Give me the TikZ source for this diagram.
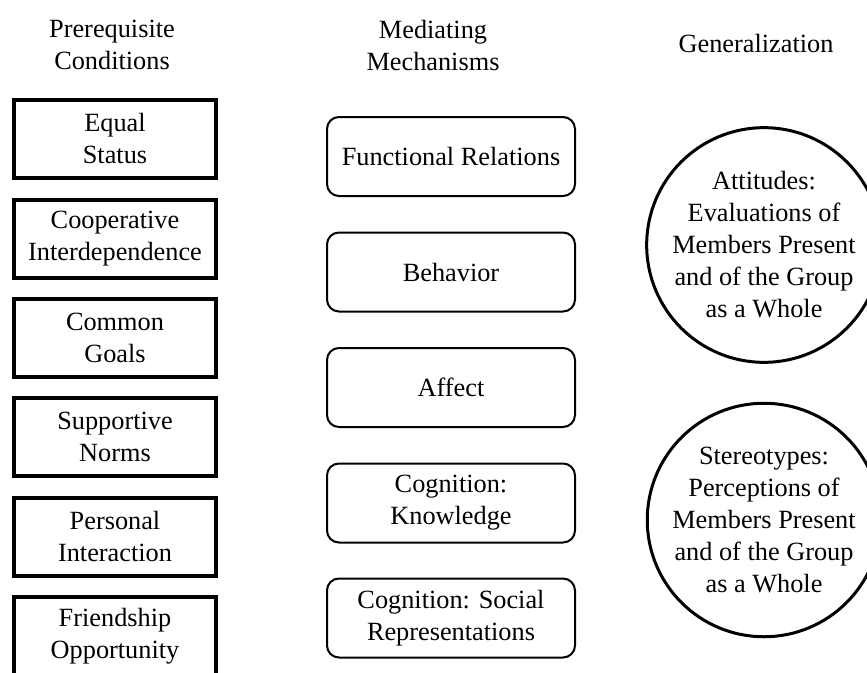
\documentclass[tikz,border=0pt]{standalone}
\usepackage{fontspec}
\setmainfont{Liberation Serif}
\begin{document}
\begin{tikzpicture}[x=1pt,y=-1pt,
        every node/.style={font=\fontsize{26.3}{32}\selectfont, align=center, inner sep=0pt},
        cond/.style={draw, line width=4pt, minimum width=202pt, minimum height=78pt},
        mech/.style={draw, line width=2pt, rounded corners=12pt, minimum width=248pt, minimum height=79pt},
        gen/.style={draw, circle, line width=3pt, minimum size=221pt}]

                \useasboundingbox (0,0) rectangle (867,672);
                \clip (0,0) rectangle (867,672);

                \node (hcond) at (112,45) {Prerequisite\\Conditions};
                \node (hmech) at (433,46) {Mediating\\Mechanisms};
                \node (hgen) at (756,44) {Generalization};

                \node [cond] (equal) at (115,139) {Equal\\Status};
                \node [cond] (coop) at (115,238.5) {Cooperative\\Interdependence};
                \node [cond] (goals) at (115,338) {Common\\Goals};
                \node [cond] (norms) at (115,437) {Supportive\\Norms};
                \node [cond] (inter) at (115,536.5) {Personal\\Interaction};
                \node [cond] (friend) at (115,636) {Friendship\\Opportunity};

                \node [mech] (func) at (451,156.5) {Functional Relations};
                \node [mech] (behav) at (451,272) {Behavior};
                \node [mech] (affect) at (451,387.5) {Affect};
                \node [mech] (know) at (451,503) {Cognition:\\Knowledge};
                \node [mech] (social) at (451,618) {Cognition: Social\\Representations};

                \node [gen] (attit) at (764,245) {Attitudes:\\Evaluations of\\Members Present\\and of the Group\\as a Whole};
                \node [gen] (stereo) at (764,520) {Stereotypes:\\Perceptions of\\Members Present\\and of the Group\\as a Whole};

            \end{tikzpicture}
\end{document}
